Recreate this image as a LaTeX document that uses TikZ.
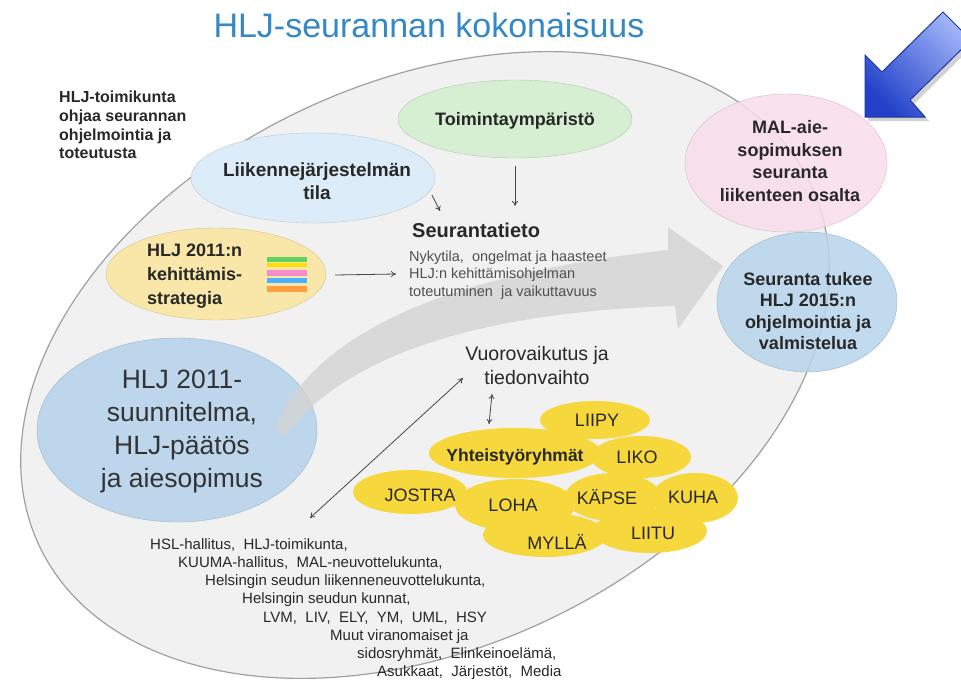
\documentclass[tikz,border=0pt]{standalone}
\usepackage{fontspec}
\setmainfont{Liberation Sans}
\usetikzlibrary{arrows.meta,shapes.geometric}
\definecolor{titleblue}{RGB}{52,136,198}
\definecolor{bigfill}{RGB}{241,241,241}
\definecolor{bigline}{RGB}{160,160,160}
\definecolor{greenF}{RGB}{214,238,210}
\definecolor{lblueF}{RGB}{220,237,249}
\definecolor{pyellF}{RGB}{248,231,168}
\definecolor{hljF}{RGB}{189,214,235}
\definecolor{pinkF}{RGB}{249,221,236}
\definecolor{tukeeF}{RGB}{183,212,236}
\definecolor{cloudF}{RGB}{246,215,60}
\definecolor{grayarrow}{RGB}{212,212,212}
\definecolor{textdark}{RGB}{40,40,40}
\definecolor{textgray}{RGB}{80,80,80}
\definecolor{linegray}{RGB}{70,70,70}
\definecolor{arrlight}{RGB}{160,180,248}
\definecolor{arrdark}{RGB}{35,65,200}
\definecolor{arredge}{RGB}{30,55,160}
\newcommand\fsz[2]{\fontsize{#1}{#2}\selectfont}
\begin{document}
\begin{tikzpicture}[x=1pt,y=-1pt,
  ellnode/.style={ellipse, inner sep=0pt, draw=#1!85!black, line width=0.4pt, fill=#1},
  lbl/.style={inner sep=0pt, text=textdark},
  cloudlbl/.style={inner sep=0pt, text=textdark, font=\fsz{18}{20}},
  bottomlbl/.style={inner sep=0pt, text=textdark, anchor=west, font=\fsz{15}{17}},
  conn/.style={draw=linegray, line width=0.8pt, -{To[length=5pt,width=6pt]}},
  dconn/.style={draw=linegray, line width=0.8pt, {To[length=5pt,width=6pt]}-{To[length=5pt,width=6pt]}}]
\useasboundingbox (0,0) rectangle (961,696);
\fill[white] (0,0) rectangle (961,696);

% big ellipse
\filldraw[fill=bigfill, draw=bigline, line width=1.2pt, rotate around={25:(425,365)}]
  (425,365) ellipse [x radius=426, y radius=283];

% title
\node[lbl, text=titleblue, font=\fsz{34}{38}] (title) at (429,25) {HLJ-seurannan kokonaisuus};

% left top text
\node[lbl, anchor=west, align=left, font=\fsz{16}{18.7}\bfseries] (toimikunta) at (59,125)
  {HLJ-toimikunta\\ohjaa seurannan\\ohjelmointia ja\\toteutusta};

% ellipses
\node[ellnode=greenF, minimum width=234pt, minimum height=78pt] (toim) at (515,119) {};
\node[lbl, font=\fsz{18}{22}\bfseries] (toimtxt) at (515,121) {Toimintaympäristö};

\node[ellnode=lblueF, minimum width=244pt, minimum height=90pt] (liik) at (313,178) {};
\node[lbl, align=center, font=\fsz{19}{23}\bfseries] (liiktxt) at (317,181) {Liikennejärjestelmän\\tila};

\node[ellnode=pyellF, minimum width=220pt, minimum height=92pt] (strat) at (216,274) {};
\node[lbl, anchor=west, align=left, font=\fsz{18}{24}\bfseries] (strattxt) at (147,276)
  {HLJ 2011:n\\kehittämis-\\strategia};
% colored bars icon
\fill[green!55!gray!80] (267,257) rectangle (307,262);
\fill[yellow!80!orange] (267,263) rectangle (307,267);
\fill[magenta!45] (267,270) rectangle (307,276);
\fill[blue!45!cyan!70] (267,278) rectangle (307,283);
\fill[orange!75] (267,286) rectangle (307,292);

\node[ellnode=hljF, minimum width=280pt, minimum height=184pt] (hlj) at (177,430) {};
\node[lbl, align=center, font=\fsz{26.5}{33}, text=black!80] (hljtxt) at (182,431)
  {HLJ 2011-\\suunnitelma,\\HLJ-päätös\\ja aiesopimus};

\node[ellnode=pinkF, fill opacity=0.85, minimum width=202pt, minimum height=138pt] (mal) at (786,163) {};
\node[lbl, align=center, font=\fsz{18}{22.5}\bfseries] (maltxt) at (790,161)
  {MAL-aie-\\sopimuksen\\seuranta\\liikenteen osalta};

\node[ellnode=tukeeF, fill opacity=0.85, minimum width=180pt, minimum height=140pt] (tukee) at (807,302) {};
\node[lbl, align=center, font=\fsz{18}{21.3}\bfseries] (tukeetxt) at (808,311)
  {Seuranta tukee\\HLJ 2015:n\\ohjelmointia ja\\valmistelua};

% yellow cloud
\fill[cloudF] (595,420) ellipse [x radius=55, y radius=19];
\fill[cloudF] (515,453) ellipse [x radius=86, y radius=25];
\fill[cloudF] (641,457) ellipse [x radius=50, y radius=21];
\fill[cloudF] (410,492) ellipse [x radius=57, y radius=22];
\fill[cloudF] (515,505) ellipse [x radius=60, y radius=26];
\fill[cloudF] (613,497) ellipse [x radius=48, y radius=24];
\fill[cloudF] (695,498) ellipse [x radius=43, y radius=25];
\fill[cloudF] (545,535) ellipse [x radius=62, y radius=22];
\fill[cloudF] (650,531) ellipse [x radius=57, y radius=22];

% gray curved arrow
\fill[grayarrow, opacity=0.8] (274,428) .. controls (315,335) and (440,275) .. (668,250)
  -- (668,227) -- (723,266) -- (678,329) -- (675,306)
  .. controls (480,312) and (345,355) .. (285,436) -- cycle;

% Seurantatieto
\node[lbl, anchor=west, font=\fsz{20}{24}\bfseries] (seur) at (412,230) {Seurantatieto};
\node[lbl, anchor=west, align=left, text=textgray, font=\fsz{14.5}{17.5}] (seursub) at (409,275)
  {Nykytila,\ \ ongelmat ja haasteet\\HLJ:n kehittämisohjelman\\toteutuminen\ \ ja vaikuttavuus};

% Vuorovaikutus
\node[lbl, align=center, font=\fsz{19.5}{24}] (vuoro) at (537,366) {Vuorovaikutus ja\\tiedonvaihto};

% cloud labels
\node[cloudlbl] (liipy) at (597,420) {LIIPY};
\node[lbl, font=\fsz{17.5}{20}\bfseries] (yht) at (515,457) {Yhteistyöryhmät};
\node[cloudlbl] (liko) at (637,457) {LIKO};
\node[cloudlbl] (jostra) at (420,495) {JOSTRA};
\node[cloudlbl] (loha) at (513,505) {LOHA};
\node[cloudlbl] (kapse) at (607,497) {KÄPSE};
\node[cloudlbl] (kuha) at (693,497) {KUHA};
\node[cloudlbl] (mylla) at (557,542) {MYLLÄ};
\node[cloudlbl] (liitu) at (653,533) {LIITU};

% bottom text
\node[bottomlbl] (b1) at (150,545) {HSL-hallitus,\ \ HLJ-toimikunta,};
\node[bottomlbl] (b2) at (178,563) {KUUMA-hallitus,\ \ MAL-neuvottelukunta,};
\node[bottomlbl] (b3) at (205,582) {Helsingin seudun liikenneneuvottelukunta,};
\node[bottomlbl] (b4) at (242,600) {Helsingin seudun kunnat,};
\node[bottomlbl] (b5) at (263,618) {LVM,\ \ LIV,\ \ ELY,\ \ YM,\ \ UML,\ \ HSY};
\node[bottomlbl] (b6) at (330,637) {Muut viranomaiset ja};
\node[bottomlbl] (b7) at (357,655) {sidosryhmät,\ \ Elinkeinoelämä,};
\node[bottomlbl] (b8) at (377,673) {Asukkaat,\ \ Järjestöt,\ \ Media};

% connectors
\coordinate (s1) at (335,275); \coordinate (e1) at (396,274);
\coordinate (s2) at (432,195); \coordinate (e2) at (440,211);
\coordinate (s3) at (515,166); \coordinate (e3) at (515,206);
\coordinate (s4) at (310,518); \coordinate (e4) at (463,378);
\coordinate (s5) at (492,394); \coordinate (e5) at (489,424);
\draw[conn] (s1) -- (e1);
\draw[conn] (s2) -- (e2);
\draw[conn] (s3) -- (e3);
\draw[dconn] (s4) -- (e4);
\draw[dconn] (s5) -- (e5);

% blue arrow
\fill[black, opacity=0.18] (946,16) -- (885,76) -- (868,59) -- (868,121) -- (929,121) -- (914,104) -- (975,44) -- cycle;
\shadedraw[top color=arrlight, bottom color=arrdark, shading angle=-45, draw=arredge, line width=1pt]
  (943,12) -- (882,72) -- (865,55) -- (865,117) -- (925,117) -- (910,100) -- (971,40) -- cycle;
\end{tikzpicture}
\end{document}
